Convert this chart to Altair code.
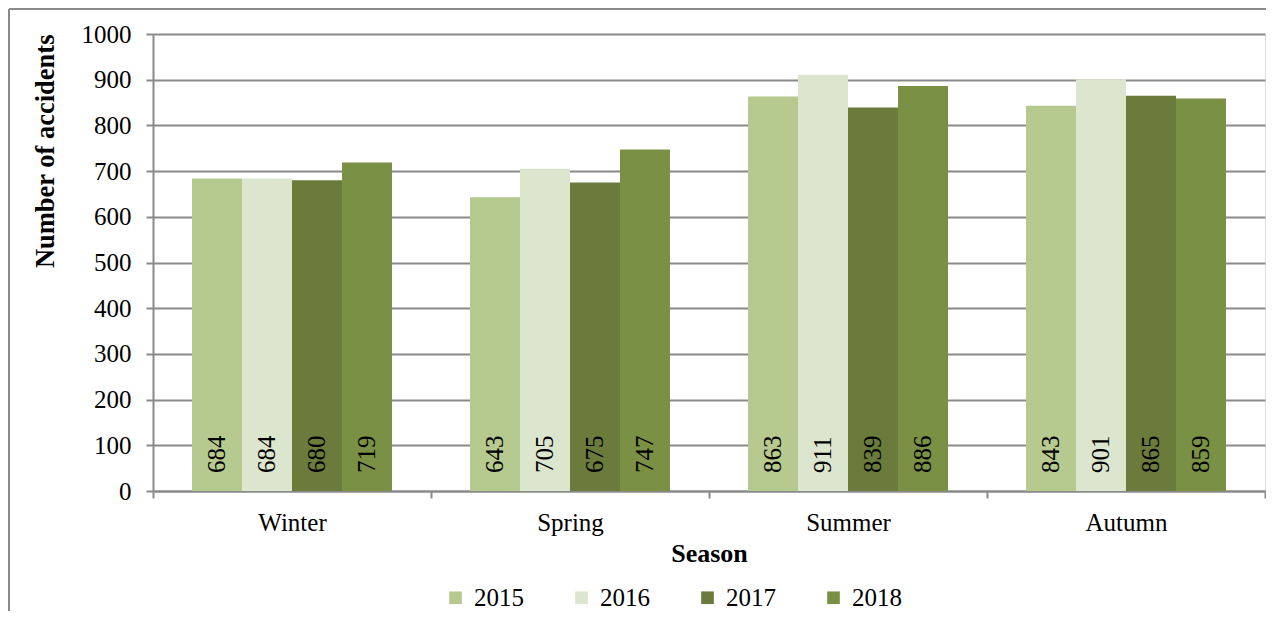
import altair as alt
import pandas as pd

seasons = ["Winter", "Spring", "Summer", "Autumn"]
years = ["2015", "2016", "2017", "2018"]
v2015 = [684, 643, 863, 843]
v2016 = [684, 705, 911, 901]
v2017 = [680, 675, 839, 865]
v2018 = [719, 747, 886, 859]
colors = ["#B6CA8F", "#DCE5CD", "#6A7B3B", "#7A9044"]

rows = []
for i, s in enumerate(seasons):
    for yr, vals in zip(years, [v2015, v2016, v2017, v2018]):
        rows.append({"Season": s, "Year": yr, "Value": vals[i]})
df = pd.DataFrame(rows)

W, H = 1112, 457
FONT = "Liberation Serif"
GRAY = "#8a8a8a"
FS = 25

x_enc = alt.X(
    "Season:N", sort=seasons, title="Season",
    scale=alt.Scale(paddingInner=0, paddingOuter=0),
    axis=alt.Axis(labelAngle=0, tickBand="extent", tickSize=7, tickColor=GRAY, tickWidth=2,
                  domainColor=GRAY, domainWidth=2, labelPadding=12, titlePadding=5,
                  labelFontSize=FS, titleFontSize=26, labelColor="black", titleColor="black",
                  labelFont=FONT, titleFont=FONT, titleFontWeight="bold", grid=False),
)
xo_enc = alt.XOffset("Year:N", sort=years, scale=alt.Scale(paddingInner=0, paddingOuter=0.78))
y_enc = alt.Y(
    "Value:Q", title="Number of accidents",
    scale=alt.Scale(domain=[0, 1000], nice=False),
    axis=alt.Axis(values=list(range(0, 1001, 100)), format="d", tickSize=7, tickColor=GRAY,
                  tickWidth=2, domainColor=GRAY, domainWidth=2, grid=True, gridColor=GRAY,
                  gridWidth=2, labelPadding=15, titlePadding=22, labelFontSize=FS,
                  titleFontSize=26.5, labelColor="black", titleColor="black", labelFont=FONT,
                  titleFont=FONT, titleFontWeight="bold", titleAnchor="end"),
)
color_enc = alt.Color(
    "Year:N", sort=years,
    scale=alt.Scale(domain=years, range=colors),
    legend=alt.Legend(title=None, orient="none", legendX=290, legendY=551, direction="horizontal",
                      symbolType="square", symbolSize=160, symbolStrokeWidth=0, labelFontSize=FS,
                      labelFont=FONT, labelColor="black", columnPadding=45, labelOffset=6, padding=0),
)

bars = alt.Chart(df).mark_bar().encode(x=x_enc, xOffset=xo_enc, y=y_enc, color=color_enc)

labels = alt.Chart(df).mark_text(
    angle=270, align="left", baseline="middle", dx=18, fontSize=FS, font=FONT, color="black"
).encode(x=alt.X("Season:N", sort=seasons), xOffset=alt.XOffset("Year:N", sort=years),
         y=alt.datum(0), text="Value:Q")

one = pd.DataFrame({"k": [0]})
border_left = alt.Chart(one).mark_rule(color=GRAY, strokeWidth=2).encode(
    x=alt.value(-144), y=alt.value(-25), y2=alt.value(H + 200))
border_top = alt.Chart(one).mark_rule(color=GRAY, strokeWidth=2).encode(
    x=alt.value(-144), x2=alt.value(W + 50), y=alt.value(-25))

chart = alt.layer(bars, labels, border_left, border_top).properties(
    width=W, height=H,
    autosize=alt.AutoSizeParams(type="none"),
    padding={"left": 145, "top": 26, "right": 1, "bottom": 120},
).configure_view(stroke=None).configure(font=FONT)

chart.save("out.html", embed_options={"renderer": "svg", "actions": False})
